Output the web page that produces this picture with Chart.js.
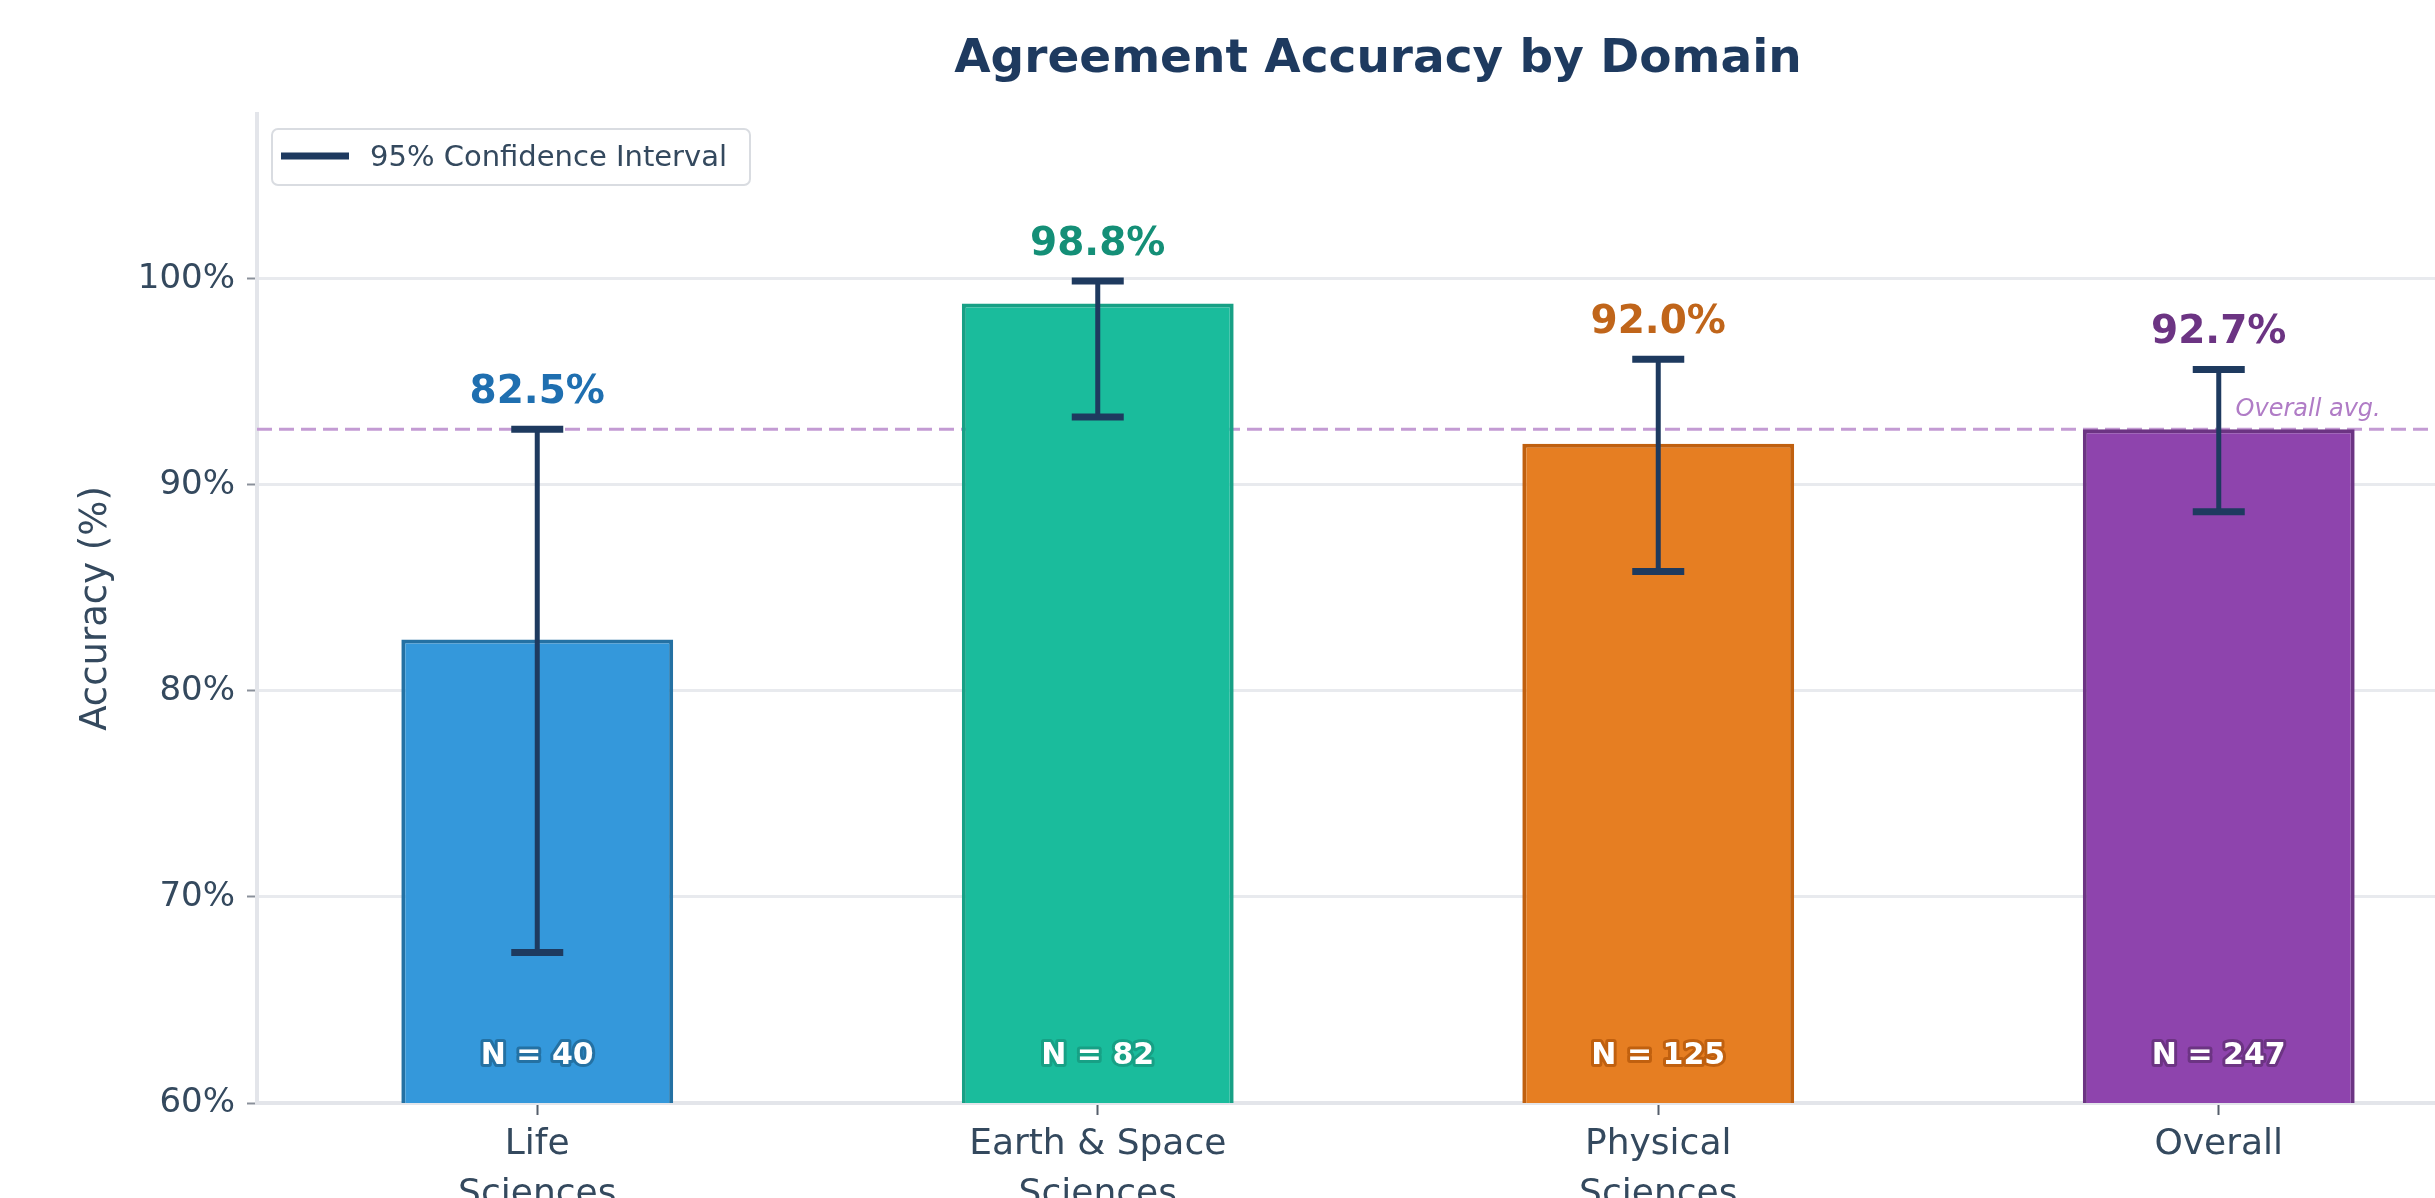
<!DOCTYPE html>
<html>
<head>
<meta charset="utf-8">
<script src="https://cdn.jsdelivr.net/npm/chart.js@4.4.1/dist/chart.umd.min.js"></script>
<style>
  html, body { margin: 0; padding: 0; background: #ffffff; overflow: hidden; }
  #chart { display: block; position: absolute; left: 0; top: 0; }
</style>
</head>
<body>
<canvas id="chart" width="2560" height="1260"></canvas>
<script>
// Dati
const categories = [['Life', 'Sciences'], ['Earth & Space', 'Sciences'], ['Physical', 'Sciences'], ['Overall']];
const accuracy = [82.5, 98.8, 92.0, 92.7];
const ciLow = [67.3, 93.3, 85.8, 88.7];
const ciHigh = [92.7, 99.9, 96.1, 95.6];
const sampleSizes = [40, 82, 125, 247];
const overallAvg = 92.7;
const yTicks = [60, 70, 80, 90, 100];

// Colori
const barColors = ['#3498db', '#1abc9c', '#e67e22', '#8e44ad'];
const edgeColors = ['#2471a3', '#17a085', '#c0600f', '#6c3483'];
const labelColors = ['#1f6fb0', '#148f77', '#c0651a', '#6c3483'];
const navy = '#1e3a5f';
const textColor = '#34495e';

Chart.defaults.font.family = "'DejaVu Sans', sans-serif";

// linea media (sotto le barre)
const avgLinePlugin = {
    id: 'avgLine',
    beforeDatasetsDraw(chart) {
        const { ctx, chartArea, scales } = chart;
        const y = scales.y.getPixelForValue(overallAvg);
        ctx.save();
        ctx.strokeStyle = '#c39bd3';
        ctx.lineWidth = 3;
        ctx.setLineDash([15, 7]);
        ctx.beginPath();
        ctx.moveTo(chartArea.left, y);
        ctx.lineTo(chartArea.right, y);
        ctx.stroke();
        ctx.restore();
    }
};

// barre d'errore, etichette, titolo, legenda
const annotationsPlugin = {
    id: 'annotations',
    afterDatasetsDraw(chart) {
        const { ctx, chartArea, scales } = chart;
        const xs = scales.x, ys = scales.y;
        ctx.save();

        // error bars
        ctx.strokeStyle = navy;
        for (let i = 0; i < accuracy.length; i++) {
            const x = xs.getPixelForValue(i);
            const yLo = ys.getPixelForValue(ciLow[i]);
            const yHi = ys.getPixelForValue(ciHigh[i]);
            ctx.lineWidth = 5;
            ctx.beginPath();
            ctx.moveTo(x, yLo);
            ctx.lineTo(x, yHi);
            ctx.stroke();
            ctx.lineWidth = 7;
            ctx.beginPath();
            ctx.moveTo(x - 26, yLo); ctx.lineTo(x + 26, yLo);
            ctx.moveTo(x - 26, yHi); ctx.lineTo(x + 26, yHi);
            ctx.stroke();
        }

        // valori sopra le barre
        ctx.font = "bold 39px 'DejaVu Sans'";
        ctx.textAlign = 'center';
        ctx.textBaseline = 'alphabetic';
        for (let i = 0; i < accuracy.length; i++) {
            const x = xs.getPixelForValue(i);
            const y = ys.getPixelForValue(ciHigh[i]) - 26;
            ctx.fillStyle = labelColors[i];
            ctx.fillText(accuracy[i].toFixed(1) + '%', x, y);
        }

        // N = ...
        ctx.font = "bold 30px 'DejaVu Sans'";
        ctx.lineJoin = 'round';
        for (let i = 0; i < sampleSizes.length; i++) {
            const x = xs.getPixelForValue(i);
            const y = ys.getPixelForValue(61.9);
            const txt = 'N = ' + sampleSizes[i];
            ctx.lineWidth = 6;
            ctx.strokeStyle = edgeColors[i];
            ctx.strokeText(txt, x, y);
            ctx.fillStyle = '#ffffff';
            ctx.fillText(txt, x, y);
        }

        // Overall avg.
        ctx.font = "italic 24px 'DejaVu Sans'";
        ctx.fillStyle = '#b07cc6';
        ctx.textAlign = 'left';
        ctx.fillText('Overall avg.', xs.getPixelForValue(3.03), ys.getPixelForValue(overallAvg) - 13);

        // titolo
        ctx.font = "bold 47px 'DejaVu Sans'";
        ctx.fillStyle = navy;
        ctx.textAlign = 'center';
        ctx.fillText('Agreement Accuracy by Domain', (chartArea.left + chartArea.right) / 2, 72);

        // legenda
        const lx = chartArea.left + 15, ly = 129, lw = 478, lh = 56;
        ctx.fillStyle = 'rgba(255,255,255,0.9)';
        ctx.strokeStyle = '#d9dce1';
        ctx.lineWidth = 2;
        ctx.beginPath();
        ctx.roundRect(lx, ly, lw, lh, 6);
        ctx.fill();
        ctx.stroke();
        ctx.strokeStyle = navy;
        ctx.lineWidth = 7;
        ctx.beginPath();
        ctx.moveTo(lx + 9, ly + 27);
        ctx.lineTo(lx + 77, ly + 27);
        ctx.stroke();
        ctx.font = "29px 'DejaVu Sans'";
        ctx.fillStyle = textColor;
        ctx.textAlign = 'left';
        ctx.textBaseline = 'middle';
        ctx.fillText('95% Confidence Interval', lx + 98, ly + 29);

        ctx.restore();
    }
};

new Chart(document.getElementById('chart'), {
    type: 'bar',
    data: {
        labels: categories,
        datasets: [{
            label: 'Accuracy',
            data: accuracy,
            backgroundColor: barColors,
            borderColor: edgeColors,
            borderWidth: 4,
            borderSkipped: false,
            barPercentage: 0.485,
            categoryPercentage: 1.0
        }]
    },
    options: {
        responsive: false,
        animation: false,
        layout: { padding: { left: 0, top: 114, right: 61, bottom: 0 } },
        plugins: {
            legend: { display: false },
            tooltip: { enabled: false }
        },
        scales: {
            x: {
                grid: { display: true, offset: false, drawOnChartArea: false, drawTicks: true, tickLength: 12, tickColor: '#555e6b', tickWidth: 2 },
                border: { display: true, color: '#e3e5ea', width: 4 },
                ticks: { color: textColor, font: { size: 36, lineHeight: 1.4 }, padding: 4 },
                afterFit(scale) { scale.height = 157; }
            },
            y: {
                min: 60,
                max: 108,
                grid: { color: '#e8eaee', lineWidth: 3, tickLength: 10, tickColor: '#8a909a', tickWidth: 2 },
                border: { display: true, color: '#e3e5ea', width: 4 },
                ticks: {
                    color: textColor,
                    font: { size: 34 },
                    padding: 12,
                    callback: (v) => v + '%'
                },
                afterBuildTicks(scale) { scale.ticks = yTicks.map(v => ({ value: v })); },
                title: { display: true, text: 'Accuracy (%)', color: textColor, font: { size: 37 }, padding: { top: 74, bottom: 0 } },
                afterFit(scale) { scale.width = 257; }
            }
        }
    },
    plugins: [avgLinePlugin, annotationsPlugin]
});
</script>
</body>
</html>
